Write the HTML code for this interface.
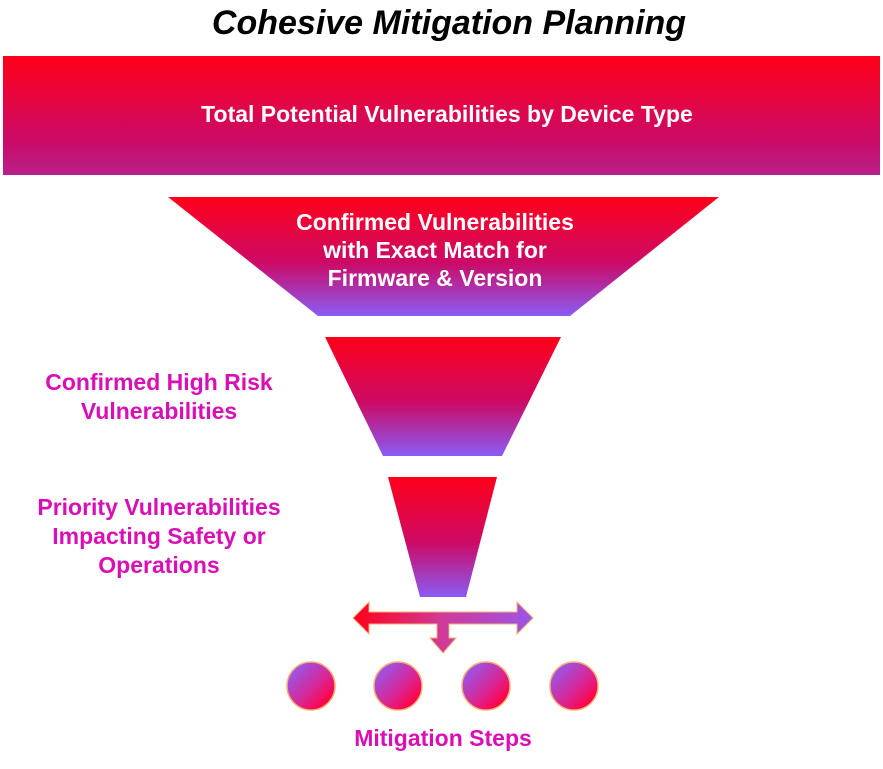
<!DOCTYPE html>
<html><head><meta charset="utf-8"><style>
html,body{margin:0;padding:0;background:#fff;}
svg{display:block}
text{font-family:"Liberation Sans",Arial,sans-serif;font-weight:bold;}
</style></head><body>
<svg width="883" height="769" viewBox="0 0 883 769" xmlns="http://www.w3.org/2000/svg">
<defs>
<linearGradient id="g1" x1="0" y1="0" x2="0" y2="1">
<stop offset="0" stop-color="#ff0019"/><stop offset="0.7" stop-color="#cc0a66"/><stop offset="1" stop-color="#b8208a"/>
</linearGradient>
<linearGradient id="g2" x1="0" y1="0" x2="0" y2="1">
<stop offset="0" stop-color="#ff0019"/><stop offset="0.55" stop-color="#cc0a66"/><stop offset="1" stop-color="#8a5cf5"/>
</linearGradient>
<linearGradient id="ga" x1="0" y1="0" x2="1" y2="0">
<stop offset="0" stop-color="#ff0019"/><stop offset="0.5" stop-color="#d03a9a"/><stop offset="1" stop-color="#9a55e8"/>
</linearGradient>
<linearGradient id="gc" x1="0" y1="0" x2="1" y2="1">
<stop offset="0.15" stop-color="#9a55e8"/><stop offset="0.6" stop-color="#e0208a"/><stop offset="0.85" stop-color="#ff0040"/>
</linearGradient>
</defs>
<text x="449" y="34" font-size="34" font-style="italic" text-anchor="middle" fill="#000">Cohesive Mitigation Planning</text>
<rect x="3" y="56" width="877" height="119" fill="url(#g1)"/>
<text x="447" y="122" font-size="23" text-anchor="middle" fill="#fff">Total Potential Vulnerabilities by Device Type</text>
<polygon points="168,197 719,197 570,316 318,316" fill="url(#g2)"/>
<text font-size="23" text-anchor="middle" fill="#fff"><tspan x="435" y="230">Confirmed Vulnerabilities</tspan><tspan x="435" y="258">with Exact Match for</tspan><tspan x="435" y="286">Firmware &amp; Version</tspan></text>
<polygon points="325,337 561,337 502,456 383,456" fill="url(#g2)"/>
<polygon points="388,477 497,477 466,597 420,597" fill="url(#g2)"/>
<text font-size="23" text-anchor="middle" fill="#d90fb5"><tspan x="159" y="390">Confirmed High Risk</tspan><tspan x="159" y="419">Vulnerabilities</tspan><tspan x="159" y="515">Priority Vulnerabilities</tspan><tspan x="159" y="544">Impacting Safety or</tspan><tspan x="159" y="573">Operations</tspan></text>
<path d="M353,618 L369,602 L369,612 L517,612 L517,602 L533,618 L517,634 L517,624 L449,624 L449,638 L456,638 L443,653 L430,638 L437,638 L437,624 L369,624 L369,634 Z" fill="url(#ga)" stroke="#f5b070" stroke-width="1"/>
<g stroke="#f6b070" stroke-width="1.5" fill="url(#gc)">
<circle cx="311" cy="686" r="24"/><circle cx="398" cy="686" r="24"/><circle cx="486" cy="686" r="24"/><circle cx="574" cy="686" r="24"/>
</g>
<text x="443" y="746" font-size="23" text-anchor="middle" fill="#d90fb5">Mitigation Steps</text>
</svg>
</body></html>
